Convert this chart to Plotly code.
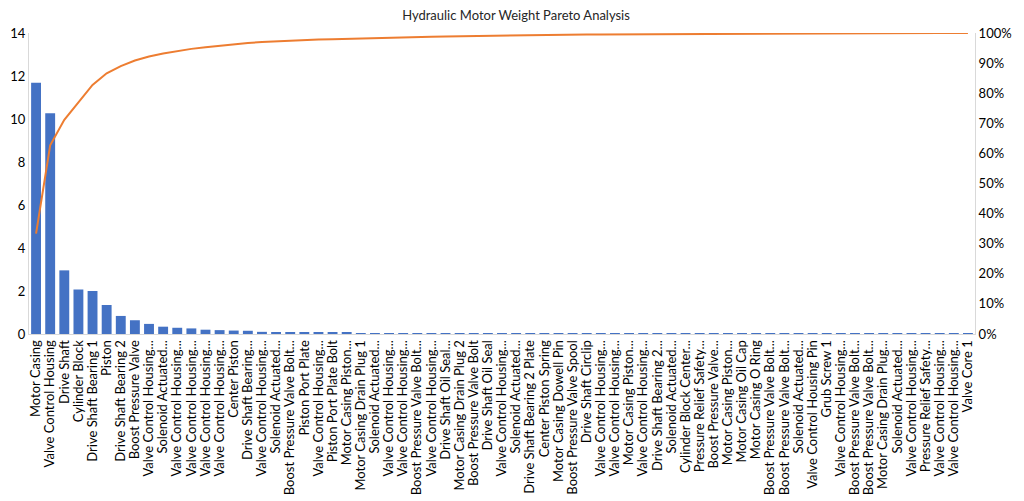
import numpy as np
import plotly.graph_objects as go

# parts, sorted by weight (Excel truncates the long names with "...")
parts = [
    "Motor Casing", "Valve Control Housing", "Drive Shaft", "Cylinder Block",
    "Drive Shaft Bearing 1", "Piston", "Drive Shaft Bearing 2", "Boost Pressure Valve",
    "Valve Control Housing...", "Solenoid Actuated...", "Valve Control Housing...",
    "Valve Control Housing...", "Valve Control Housing...", "Valve Control Housing...",
    "Center Piston", "Drive Shaft Bearing...", "Valve Control Housing...",
    "Solenoid Actuated...", "Boost Pressure Valve Bolt...", "Piston Port Plate",
    "Valve Control Housing...", "Piston Port Plate Bolt", "Motor Casing Piston...",
    "Motor Casing Drain Plug 1", "Solenoid Actuated...", "Valve Control Housing...",
    "Valve Control Housing...", "Boost Pressure Valve Bolt...", "Valve Control Housing...",
    "Drive Shaft Oil Seal...", "Motor Casing Drain Plug 2", "Boost Pressure Valve Bolt",
    "Drive Shaft Oil Seal", "Valve Control Housing...", "Solenoid Actuated...",
    "Drive Shaft Bearing 2 Plate", "Center Piston Spring", "Motor Casing Dowell Pin",
    "Boost Pressure Valve Spool", "Drive Shaft Circlip", "Valve Control Housing...",
    "Valve Control Housing...", "Motor Casing Piston...", "Valve Control Housing...",
    "Drive Shaft Bearing 2...", "Solenoid Actuated...", "Cylinder Block Center...",
    "Pressure Relief Safety...", "Boost Pressure Valve...", "Motor Casing Piston...",
    "Motor Casing Oil Cap", "Motor Casing O Ring", "Boost Pressure Valve Bolt...",
    "Boost Pressure Valve Bolt...", "Solenoid Actuated...", "Valve Control Housing Pin",
    "Grub Screw 1", "Valve Control Housing...", "Boost Pressure Valve Bolt...",
    "Boost Pressure Valve Bolt...", "Motor Casing Drain Plug...", "Solenoid Actuated...",
    "Valve Control Housing...", "Pressure Relief Safety...", "Valve Control Housing...",
    "Valve Control Housing...", "Valve Core 1",
]

weights = [
    11.69, 10.27, 2.96, 2.07, 2.00, 1.35, 0.84, 0.64, 0.47, 0.34,
    0.29, 0.26, 0.20, 0.18, 0.16, 0.15, 0.10, 0.09, 0.07, 0.07,
    0.06, 0.05, 0.05, 0.04, 0.04, 0.04, 0.04, 0.04, 0.03, 0.03,
    0.03, 0.03, 0.03, 0.02, 0.02, 0.02, 0.02, 0.02, 0.02, 0.02,
    0.01, 0.01, 0.01, 0.01, 0.01, 0.01, 0.01, 0.01, 0.01, 0.01,
    0.008, 0.008, 0.007, 0.006, 0.006, 0.005, 0.005, 0.005, 0.004, 0.004,
    0.004, 0.003, 0.003, 0.003, 0.002, 0.002, 0.002,
]

idx = list(range(len(parts)))
cum = np.cumsum(weights) / np.sum(weights)

font = "Lato"

fig = go.Figure()
fig.add_trace(go.Bar(x=idx, y=weights, marker=dict(color="#4472C4", line=dict(width=0)),
                     width=0.7, showlegend=False))
fig.add_trace(go.Scatter(x=idx, y=cum, yaxis="y2", mode="lines",
                         line=dict(color="#ED7D31", width=2), showlegend=False))

# page body has an 8px margin, so the figure is a bit smaller than the window
fig.update_layout(
    width=1016, height=493,
    margin=dict(l=21, r=49, t=25, b=167),
    paper_bgcolor="white", plot_bgcolor="white",
    font=dict(family=font, size=13, color="black"),
    title=dict(text="Hydraulic Motor Weight Pareto Analysis", x=0.5, xanchor="center",
               yref="container", y=1 - 7 / 493, yanchor="middle",
               font=dict(size=13, color="#262626")),
    xaxis=dict(tickmode="array", tickvals=idx, ticktext=parts, tickangle=-90,
               range=[-0.5, len(parts) - 0.5], showgrid=False, ticks="",
               showline=True, linecolor="#d9d9d9", linewidth=1, automargin=False,
               tickfont=dict(size=13, color="black")),
    yaxis=dict(range=[0, 14], dtick=2, showgrid=False, zeroline=False,
               showline=True, linecolor="#d9d9d9", ticks="", automargin=False,
               tickfont=dict(size=13, color="black")),
    yaxis2=dict(overlaying="y", side="right", range=[0, 1], dtick=0.1,
                tickformat=".0%", showgrid=False, zeroline=False, automargin=False,
                showline=True, linecolor="#d9d9d9", ticks="",
                tickfont=dict(size=13, color="black")),
    bargap=0.3,
)

fig.write_html("out.html")
